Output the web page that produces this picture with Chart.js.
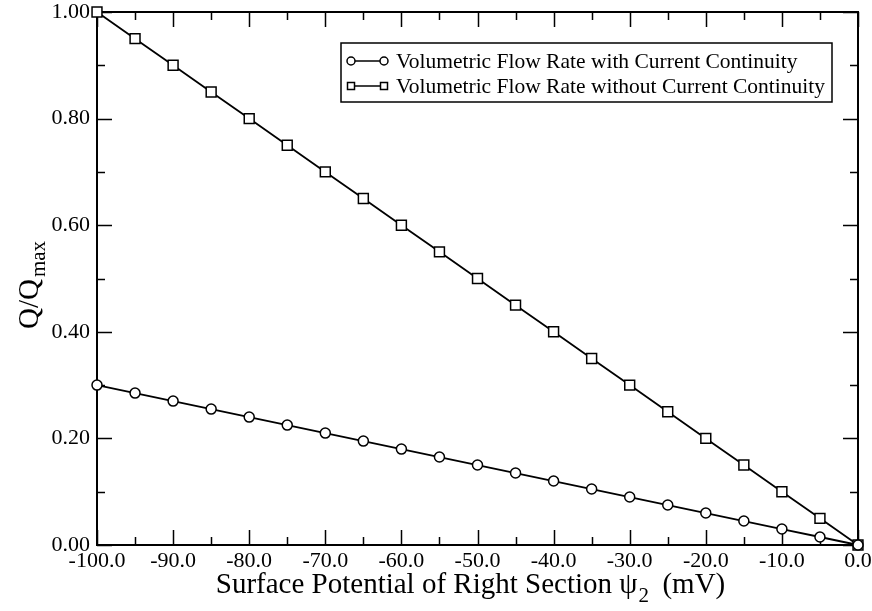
<!DOCTYPE html>
<html>
<head>
<meta charset="utf-8">
<script src="https://cdn.jsdelivr.net/npm/chart.js@4/dist/chart.umd.min.js"></script>
<style>
  html, body { margin: 0; padding: 0; background: #fff; }
  #wrap { width: 872px; height: 611px; }
</style>
</head>
<body>
<div id="wrap"><canvas id="flow-chart" width="872" height="611"></canvas></div>
<script>
// surface potential of right section (mV)
var potentials = [-100, -95, -90, -85, -80, -75, -70, -65, -60, -55, -50, -45, -40, -35, -30, -25, -20, -15, -10, -5, 0];
// Q/Qmax with current continuity
var withContinuity = [0.300, 0.285, 0.270, 0.255, 0.240, 0.225, 0.210, 0.195, 0.180, 0.165, 0.150, 0.135, 0.120, 0.105, 0.090, 0.075, 0.060, 0.045, 0.030, 0.015, 0.000];
// Q/Qmax without current continuity
var withoutContinuity = [1.00, 0.95, 0.90, 0.85, 0.80, 0.75, 0.70, 0.65, 0.60, 0.55, 0.50, 0.45, 0.40, 0.35, 0.30, 0.25, 0.20, 0.15, 0.10, 0.05, 0.00];
var seriesNames = ['Volumetric Flow Rate with Current Continuity', 'Volumetric Flow Rate without Current Continuity'];
var xMajor = [-100, -90, -80, -70, -60, -50, -40, -30, -20, -10, 0];
var xMinor = [-95, -85, -75, -65, -55, -45, -35, -25, -15, -5];
var yMajor = [0, 0.2, 0.4, 0.6, 0.8, 1.0];
var yMinor = [0.1, 0.3, 0.5, 0.7, 0.9];

var SERIF = "'Liberation Serif', 'Times New Roman', serif";

function toPoints(ys) {
  return potentials.map(function (x, i) { return { x: x, y: ys[i] }; });
}

// frame, inward ticks, legend and axis titles
var decorations = {
  id: 'decorations',
  beforeDatasetsDraw: function (chart) {
    var ctx = chart.ctx;
    var a = chart.chartArea;
    var xs = chart.scales.x, ys = chart.scales.y;
    ctx.save();
    ctx.strokeStyle = '#000';
    ctx.lineWidth = 2;
    ctx.strokeRect(a.left, a.top, a.right - a.left, a.bottom - a.top);
    ctx.lineWidth = 1.5;
    ctx.beginPath();
    function xt(list, len) {
      list.forEach(function (v) {
        var p = Math.round(xs.getPixelForValue(v)) + 0.5;
        ctx.moveTo(p, a.bottom); ctx.lineTo(p, a.bottom - len);
        ctx.moveTo(p, a.top); ctx.lineTo(p, a.top + len);
      });
    }
    function yt(list, len) {
      list.forEach(function (v) {
        var p = Math.round(ys.getPixelForValue(v)) + 0.5;
        ctx.moveTo(a.left, p); ctx.lineTo(a.left + len, p);
        ctx.moveTo(a.right, p); ctx.lineTo(a.right - len, p);
      });
    }
    xt(xMajor, 15); xt(xMinor, 8);
    yt(yMajor, 15); yt(yMinor, 8);
    ctx.stroke();
    ctx.restore();
  },
  afterDraw: function (chart) {
    var ctx = chart.ctx;
    var a = chart.chartArea;
    ctx.save();
    ctx.fillStyle = '#000';
    ctx.strokeStyle = '#000';

    // legend
    var bx = 341, by = 43, bw = 491, bh = 59;
    ctx.lineWidth = 1.5;
    ctx.fillStyle = '#fff';
    ctx.fillRect(bx, by, bw, bh);
    ctx.strokeRect(bx, by, bw, bh);
    ctx.font = '21.5px ' + SERIF;
    ctx.textBaseline = 'middle';
    [61, 86].forEach(function (ry, i) {
      var x0 = 351, x1 = 384;
      ctx.lineWidth = 1.5;
      ctx.beginPath();
      ctx.moveTo(x0, ry); ctx.lineTo(x1, ry);
      ctx.stroke();
      [x0, x1].forEach(function (mx) {
        ctx.beginPath();
        if (i === 0) ctx.arc(mx, ry, 4, 0, Math.PI * 2);
        else ctx.rect(mx - 3.5, ry - 3.5, 7, 7);
        ctx.fillStyle = '#fff';
        ctx.fill();
        ctx.stroke();
      });
      ctx.fillStyle = '#000';
      ctx.textAlign = 'left';
      ctx.fillText(seriesNames[i], 396, ry + 1);
    });

    // x title with subscript
    ctx.textBaseline = 'alphabetic';
    var big = '29px ' + SERIF, small = '21px ' + SERIF;
    var t1 = 'Surface Potential of Right Section \u03C8', t2 = '2', t3 = '  (mV)';
    ctx.font = big; var w1 = ctx.measureText(t1).width, w3 = ctx.measureText(t3).width;
    ctx.font = small; var w2 = ctx.measureText(t2).width;
    var cx = (a.left + a.right) / 2 - 7;
    var sx = cx - (w1 + w2 + w3) / 2, base = 593;
    ctx.textAlign = 'left';
    ctx.font = big; ctx.fillText(t1, sx, base);
    ctx.font = small; ctx.fillText(t2, sx + w1 + 1, base + 9);
    ctx.font = big; ctx.fillText(t3, sx + w1 + w2, base);

    // y title with subscript
    var u1 = 'Q/Q', u2 = 'max';
    ctx.font = big; var v1 = ctx.measureText(u1).width;
    ctx.font = small; var v2 = ctx.measureText(u2).width;
    ctx.translate(38, 285);
    ctx.rotate(-Math.PI / 2);
    var start = -(v1 + v2 + 2) / 2;
    ctx.font = big; ctx.fillText(u1, start, 0);
    ctx.font = small; ctx.fillText(u2, start + v1 + 2, 7);
    ctx.restore();
  }
};

var chart = new Chart(document.getElementById('flow-chart').getContext('2d'), {
  type: 'line',
  data: {
    datasets: [{
      label: seriesNames[0],
      data: toPoints(withContinuity),
      borderColor: '#000',
      borderWidth: 1.8,
      backgroundColor: '#fff',
      pointStyle: 'circle',
      pointRadius: 5,
      pointBorderWidth: 1.5,
      pointBorderColor: '#000',
      pointBackgroundColor: '#fff',
      tension: 0
    }, {
      label: seriesNames[1],
      data: toPoints(withoutContinuity),
      borderColor: '#000',
      borderWidth: 1.8,
      backgroundColor: '#fff',
      pointStyle: 'rect',
      pointRadius: 7,
      pointBorderWidth: 1.5,
      pointBorderColor: '#000',
      pointBackgroundColor: '#fff',
      tension: 0
    }]
  },
  options: {
    responsive: false,
    animation: false,
    clip: false,
    layout: { padding: { top: 12, right: 14, left: 0, bottom: 0 } },
    plugins: {
      legend: { display: false },
      tooltip: { enabled: false }
    },
    scales: {
      x: {
        type: 'linear',
        min: -100,
        max: 0,
        afterFit: function (scale) {
          scale.height = 66;
          scale.paddingLeft = 0;
          scale.paddingRight = 0;
        },
        grid: { display: false, drawTicks: false },
        border: { display: false },
        ticks: {
          stepSize: 10,
          padding: 3,
          color: '#000',
          maxRotation: 0,
          font: { family: SERIF, size: 22 },
          callback: function (v) { return v.toFixed(1); }
        }
      },
      y: {
        type: 'linear',
        min: 0,
        max: 1,
        afterFit: function (scale) {
          scale.width = 97;
          scale.paddingTop = 0;
          scale.paddingBottom = 0;
        },
        grid: { display: false, drawTicks: false },
        border: { display: false },
        ticks: {
          stepSize: 0.2,
          padding: 7,
          color: '#000',
          font: { family: SERIF, size: 22 },
          callback: function (v) { return v.toFixed(2); }
        }
      }
    }
  },
  plugins: [decorations]
});
</script>
</body>
</html>
